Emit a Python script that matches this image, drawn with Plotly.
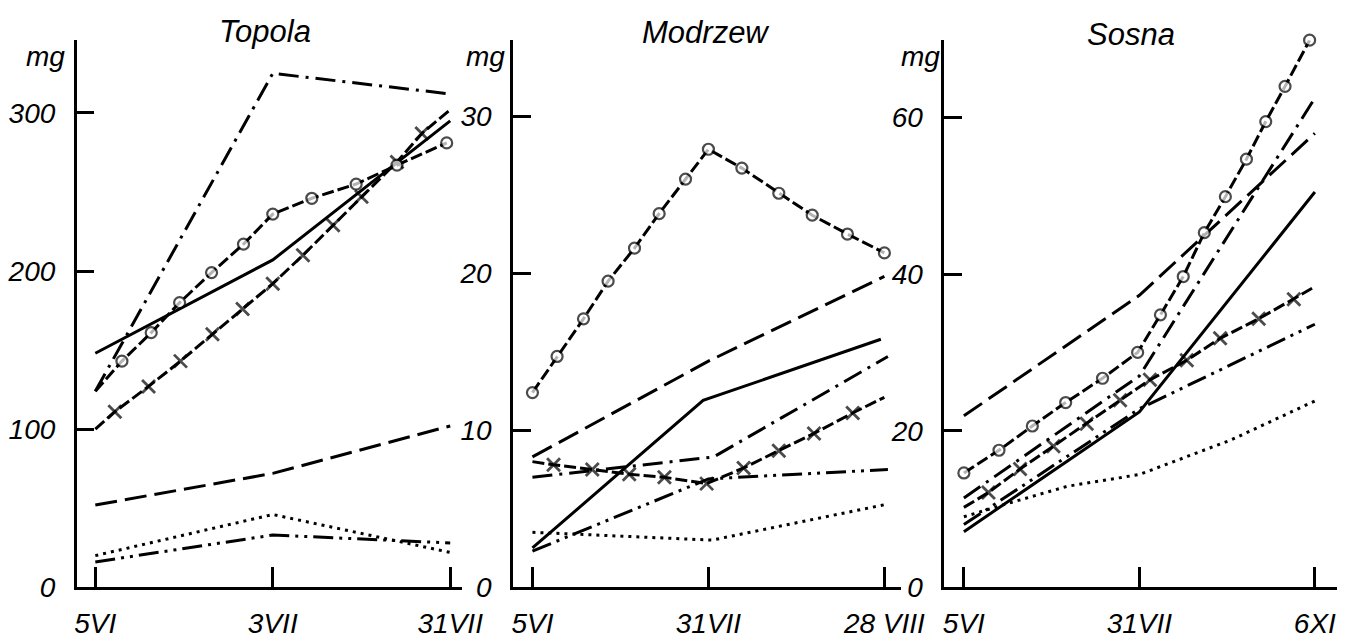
import plotly.graph_objects as go

W, H = 1370, 643

# ---------------- data ----------------
# x positions are measured in "tick units": 0 = first date, 1 = middle date, 2 = last date
x3 = [0, 1, 2]

# Topola (mg)
top_ticks = ["5VI", "3VII", "31VII"]
top_solid = [148, 207, 295]
top_dashdot = [124, 325, 312]
top_dashed = [52, 72, 102]
top_dotted = [20, 46, 22]
top_dashdotdot = [16, 33, 28]
top_circ_x = [0, 0.15, 0.315, 0.475, 0.655, 0.835, 1.0, 1.22, 1.47, 1.70, 1.98]
top_circ_y = [124, 143, 161, 180, 199, 217, 236, 246, 255, 267, 281]
top_cross_x = [0, 0.11, 0.30, 0.48, 0.66, 0.83, 1.0, 1.17, 1.34, 1.50, 1.70, 1.84, 2.0]
top_cross_y = [100, 111, 127, 143, 160, 176, 192, 210, 229, 247, 269, 287, 302]

# Modrzew (mg)
mod_ticks = ["5VI", "31VII", "28 VIII"]
mod_solid_x = [0, 0.97, 1.98]
mod_solid = [2.5, 11.9, 15.8]
mod_dashdot_x = [0, 1.03, 2.02]
mod_dashdot = [7.0, 8.3, 14.7]
mod_dashed = [8.3, 14.4, 19.8]
mod_dotted_x = [0, 1.02, 2.02]
mod_dotted = [3.5, 3.0, 5.3]
mod_dashdotdot_x = [0, 1.0, 2.02]
mod_dashdotdot = [2.3, 6.9, 7.5]
mod_circ_x = [0, 0.14, 0.29, 0.43, 0.58, 0.72, 0.87, 1.0, 1.19, 1.4, 1.59, 1.79, 2.0]
mod_circ_y = [12.4, 14.7, 17.1, 19.5, 21.6, 23.8, 26.0, 27.9, 26.7, 25.1, 23.7, 22.5, 21.3]
mod_cross_x = [0, 0.12, 0.34, 0.55, 0.75, 0.99, 1.20, 1.40, 1.60, 1.82, 2.0]
mod_cross_y = [8.0, 7.8, 7.5, 7.2, 7.0, 6.6, 7.6, 8.7, 9.8, 11.1, 12.1]

# Sosna (mg)
sos_ticks = ["5VI", "31VII", "6XI"]
sos_solid = [7.1, 22.4, 50.5]
sos_dashdot = [11.4, 27.0, 62.5]
sos_dashed = [21.9, 37.3, 58.0]
sos_dashdotdot = [8.0, 22.8, 33.6]
sos_dotted_x = [0, 0.25, 0.59, 1.0, 1.52, 2.0]
sos_dotted = [9.0, 10.7, 12.9, 14.4, 18.8, 23.8]
sos_circ_x = [0, 0.2, 0.39, 0.58, 0.79, 0.99, 1.12, 1.25, 1.37, 1.49, 1.61, 1.72, 1.83, 1.97]
sos_circ_y = [14.6, 17.5, 20.6, 23.6, 26.7, 30.0, 34.8, 39.7, 45.3, 49.9, 54.7, 59.5, 64.0, 69.9]
sos_cross_x = [0, 0.14, 0.32, 0.51, 0.70, 0.89, 1.06, 1.27, 1.46, 1.68, 1.88, 2.0]
sos_cross_y = [10.2, 12.1, 15.1, 18.0, 20.9, 23.9, 26.5, 29.0, 31.8, 34.3, 36.8, 38.4]

# ---------------- styles ----------------
FONT = "Liberation Sans, Arial, sans-serif"
LW = 3
DASH = "22px,8px"
DASHDOT = "20px,7px,3px,7px"
DASHDOTDOT = "20px,6px,3px,6px,3px,6px"
DOT = "3px,5px"
MARKDASH = "12px,4px"

fig = go.Figure()


def line(xa, ya, x, y, dash):
    fig.add_trace(go.Scatter(
        x=x, y=y, xaxis=xa, yaxis=ya, mode="lines",
        line=dict(color="black", width=LW, dash=dash),
        cliponaxis=False, showlegend=False, hoverinfo="skip"))


def marked(xa, ya, x, y, symbol, first=True, last=True):
    n = len(x)
    sz = 11 if symbol == "circle" else 13
    sizes = [sz] * n
    if not first:
        sizes[0] = 0
    if not last:
        sizes[-1] = 0
    if symbol == "circle":
        marker = dict(symbol="circle", size=sizes, color="white",
                      line=dict(color="black", width=2.2))
    else:
        marker = dict(symbol="x-thin", size=sizes, color="black",
                      line=dict(color="black", width=2.8))
    fig.add_trace(go.Scatter(
        x=x, y=y, xaxis=xa, yaxis=ya, mode="lines+markers",
        line=dict(color="black", width=LW, dash=MARKDASH),
        marker=marker, cliponaxis=False, showlegend=False, hoverinfo="skip"))


# Topola
line("x", "y", x3, top_dashed, DASH)
line("x", "y", x3, top_dotted, DOT)
line("x", "y", x3, top_dashdotdot, DASHDOTDOT)
line("x", "y", x3, top_dashdot, DASHDOT)
line("x", "y", x3, top_solid, "solid")
marked("x", "y", top_cross_x, top_cross_y, "x", first=False, last=False)
marked("x", "y", top_circ_x, top_circ_y, "circle", first=False, last=True)

# Modrzew
line("x2", "y2", x3, mod_dashed, DASH)
line("x2", "y2", mod_dotted_x, mod_dotted, DOT)
line("x2", "y2", mod_dashdotdot_x, mod_dashdotdot, DASHDOTDOT)
line("x2", "y2", mod_dashdot_x, mod_dashdot, DASHDOT)
line("x2", "y2", mod_solid_x, mod_solid, "solid")
marked("x2", "y2", mod_cross_x, mod_cross_y, "x", first=False, last=False)
marked("x2", "y2", mod_circ_x, mod_circ_y, "circle", first=True, last=True)

# Sosna
line("x3", "y3", x3, sos_dashed, DASH)
line("x3", "y3", sos_dotted_x, sos_dotted, DOT)
line("x3", "y3", x3, sos_dashdotdot, DASHDOTDOT)
line("x3", "y3", x3, sos_dashdot, DASHDOT)
line("x3", "y3", x3, sos_solid, "solid")
marked("x3", "y3", sos_cross_x, sos_cross_y, "x", first=False, last=False)
marked("x3", "y3", sos_circ_x, sos_circ_y, "circle", first=True, last=True)


# ---------------- layout ----------------
def px_x(p):
    return p / W


def px_y(p):
    return 1 - p / H


tickfont = dict(family=FONT, size=28, color="black", style="italic")


def xaxis(dom, rng, labels, anchor):
    return dict(domain=[px_x(dom[0]), px_x(dom[1])], range=rng, anchor=anchor,
                tickmode="array", tickvals=x3, ticktext=labels,
                showline=True, linecolor="black", linewidth=2.5,
                ticks="inside", ticklen=20, tickwidth=2.5, tickcolor="black",
                showgrid=False, zeroline=False, tickfont=tickfont,
                ticklabelstandoff=9, fixedrange=True)


def yaxis(top, tickvals, anchor):
    return dict(domain=[px_y(594), px_y(33)], range=[0, top], anchor=anchor,
                tickmode="array", tickvals=tickvals,
                ticktext=[str(v) for v in tickvals],
                showline=True, linecolor="black", linewidth=2.5,
                ticks="inside", ticklen=18, tickwidth=2.5, tickcolor="black",
                showgrid=False, zeroline=False, tickfont=tickfont,
                ticklabelstandoff=13, fixedrange=True)


top_yticks = [0, 100, 200, 300]
mod_yticks = [0, 10, 20, 30]
sos_yticks = [0, 20, 40, 60]

layout = dict(
    width=W, height=H, margin=dict(l=0, r=0, t=0, b=0),
    paper_bgcolor="white", plot_bgcolor="white", showlegend=False,
    xaxis=xaxis((67, 460), [-0.105, 2.066], top_ticks, "y"),
    yaxis=yaxis(346, top_yticks, "x"),
    xaxis2=xaxis((512, 908), [-0.111, 2.095], mod_ticks, "y2"),
    yaxis2=yaxis(34.85, mod_yticks, "x2"),
    xaxis3=xaxis((952, 1353), [-0.112, 2.128], sos_ticks, "y3"),
    yaxis3=yaxis(69.9, sos_yticks, "x3"),
)

annots = []
for text, cx, cy in [("Topola", 259, 24), ("Modrzew", 709, 25), ("Sosna", 1143, 27)]:
    annots.append(dict(text=text, x=px_x(cx), y=px_y(cy), xref="paper", yref="paper",
                       xanchor="center", yanchor="middle", showarrow=False,
                       font=dict(family=FONT, size=31, color="black", style="italic")))
for cx in (35, 484, 928):
    annots.append(dict(text="mg", x=px_x(cx), y=px_y(50), xref="paper", yref="paper",
                       xanchor="center", yanchor="middle", showarrow=False,
                       font=dict(family=FONT, size=28, color="black", style="italic")))
layout["annotations"] = annots

fig.update_layout(**layout)
fig.write_html("out.html")
